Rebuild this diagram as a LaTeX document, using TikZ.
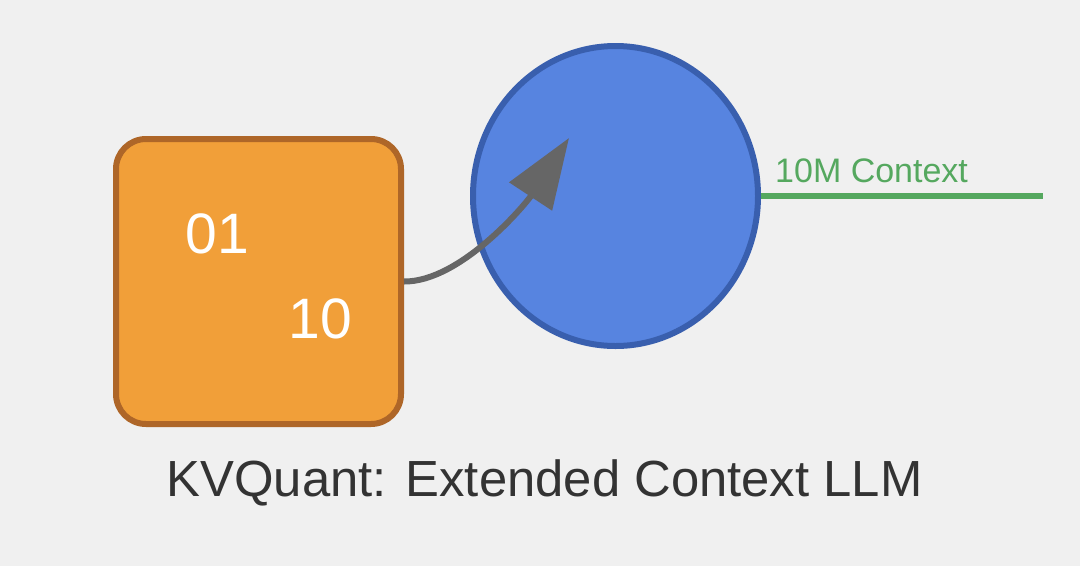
\documentclass[tikz,border=0pt]{standalone}
\usepackage{fontspec}
\setmainfont{Liberation Sans}
\usetikzlibrary{arrows.meta,shapes.geometric,positioning}

\definecolor{bggray}{HTML}{F0F0F0}
\definecolor{boxfill}{HTML}{F19F39}
\definecolor{boxline}{HTML}{AE6628}
\definecolor{discfill}{HTML}{5784E0}
\definecolor{discline}{HTML}{395FAE}
\definecolor{arrowgray}{HTML}{666666}
\definecolor{ctxgreen}{HTML}{55A85F}
\definecolor{titlegray}{HTML}{333333}

\tikzstyle{databox} = [rectangle, rounded corners=30pt, minimum width=285pt, minimum height=285pt, line width=6pt, draw=boxline, fill=boxfill]
\tikzstyle{llmdisc} = [ellipse, minimum width=285pt, minimum height=300pt, line width=6pt, draw=discline, fill=discfill]
\tikzstyle{bits} = [inner sep=0pt, text=white, font=\fontsize{57}{60}\selectfont]
\tikzstyle{arrow} = [line width=6pt, draw=arrowgray, -{Triangle[length=70pt,width=50pt]}]
\tikzstyle{ctxline} = [line width=6.5pt, draw=ctxgreen]

\begin{document}
\begin{tikzpicture}[x=1pt, y=-1pt]
  \fill[bggray] (0,0) rectangle (1080,566);
  \useasboundingbox (0,0) rectangle (1080,566);

  \node (box) [databox] at (258.5,281.5) {};
  \node (bitsa) [bits] at (217.5,234) {01};
  \node (bitsb) [bits] at (320.5,319) {10};
  \node (disc) [llmdisc] at (615.5,196) {};

  \coordinate (tip) at (569,138);
  \coordinate (ctxend) at (1043,196);

  \draw [arrow] (box.east) .. controls (460,282) and (525,205) .. (tip);
  \draw [ctxline] (disc.east) -- (ctxend);
  \node (ctxlabel) [anchor=base west, inner sep=0pt, text=ctxgreen, font=\fontsize{34}{36}\selectfont] at (775,182) {10M Context};

  \node (title) [anchor=base, inner sep=0pt, text=titlegray, font=\fontsize{50.8}{54}\selectfont] at (544.5,496) {KVQuant: Extended Context LLM};
\end{tikzpicture}
\end{document}
